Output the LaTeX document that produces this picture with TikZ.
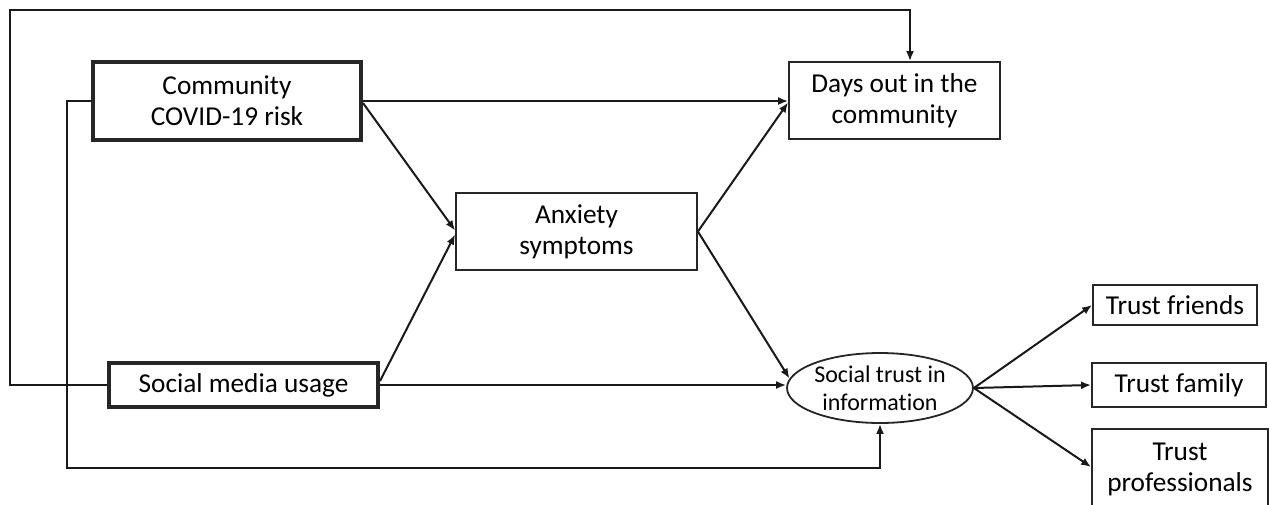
\documentclass[tikz,border=0pt]{standalone}
\usepackage{fontspec}
\setmainfont{Carlito}[Ligatures=NoCommon]
\usetikzlibrary{arrows.meta,shapes.geometric}
\begin{document}
\begin{tikzpicture}[x=1pt,y=-1pt,
  box/.style={draw=black!85,line width=1.8pt,rectangle,inner sep=0pt,align=center,
    font=\fontsize{27.3}{31}\selectfont},
  thickbox/.style={box,line width=4pt},
  ell/.style={draw=black!85,line width=1.8pt,ellipse,inner sep=0pt,align=center,
    font=\fontsize{24}{28}\selectfont},
  arr/.style={draw=black!90,line width=2pt,-{Latex[length=10pt,width=8pt]}}]
\useasboundingbox (0,0) rectangle (1269,504);
\node[thickbox,minimum width=268pt,minimum height=78pt] (comm) at (227,101) {Community\\COVID-19 risk};
\node[box,minimum width=211pt,minimum height=77pt] (days) at (894.5,100.5) {Days out in the\\community};
\node[box,minimum width=241pt,minimum height=77pt] (anx) at (576.5,231.5) {Anxiety\\symptoms};
\node[thickbox,minimum width=269pt,minimum height=44pt] (smu) at (243.5,385) {Social media usage};
\node[ell,minimum width=180pt,minimum height=70pt] (soc) at (880,388) {Social trust in\\information};
\node[box,minimum width=164pt,minimum height=40pt] (tf) at (1175,305) {Trust friends};
\node[box,minimum width=174pt,minimum height=44pt] (tfam) at (1179,385) {Trust family};
\node[box,minimum width=176pt,minimum height=80pt] (tpro) at (1180,469) {Trust\\professionals};
% loops
\coordinate (lA) at (10,10);
\coordinate (lB) at (67,468);
\draw[arr] (smu.west) -| (lA) -| ([xshift=15.5pt]days.north);
\draw[arr] (comm.west) -| (lB) -| (soc.south);
% direct paths
\draw[arr] (comm.east) -- (comm.east -| days.west);
\draw[arr] ([yshift=-2pt]comm.east) -- ([yshift=1pt]anx.west);
\draw[arr] ([yshift=4pt]smu.east) -- ([yshift=-3pt]anx.west);
\draw[arr] (smu.east) -- (smu.east -| soc.west);
\draw[arr] (anx.east) -- ([yshift=-2pt]days.west);
\draw[arr] (anx.east) -- (soc.174);
\draw[arr] (soc.east) -- (tf.west);
\draw[arr] (soc.east) -- (tfam.west);
\draw[arr] (soc.east) -- ([yshift=2pt]tpro.west);
\end{tikzpicture}
\end{document}
